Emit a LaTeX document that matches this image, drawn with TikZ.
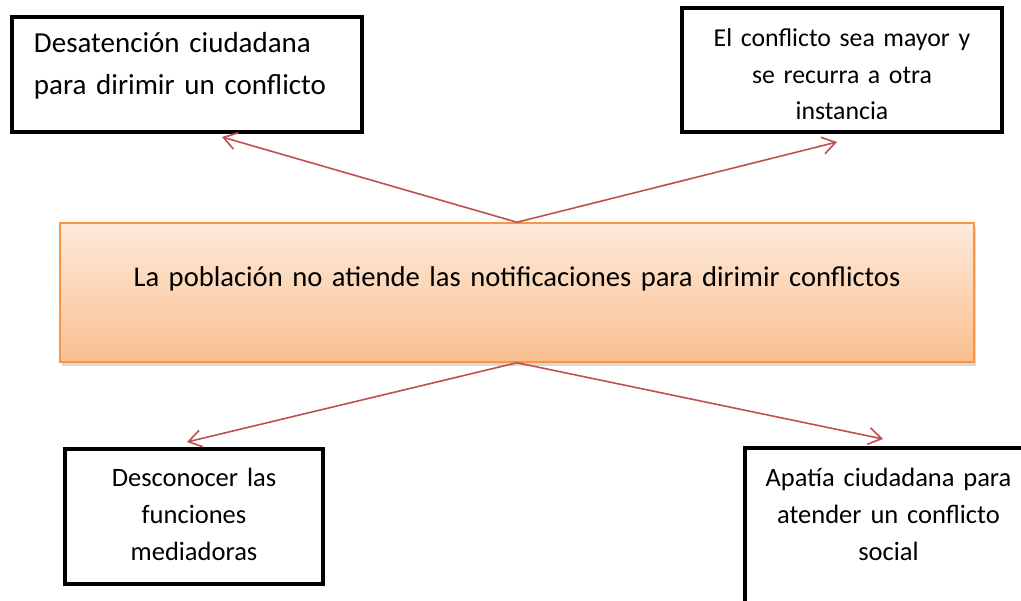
\documentclass[tikz,border=0pt]{standalone}
\usepackage{fontspec}
\setmainfont{Carlito}
\usetikzlibrary{arrows.meta, positioning, shadows, calc}
\definecolor{linkred}{RGB}{192,80,77}
\definecolor{boxorange}{RGB}{247,150,70}
\definecolor{peachtop}{RGB}{253,234,218}
\definecolor{peachbottom}{RGB}{250,191,143}

\begin{document}
\begin{tikzpicture}[
    x=1pt, y=-1pt,
    effect/.style={rectangle, draw=black, line width=4pt, inner sep=0pt, align=center,
                   text height=20pt, font=\fontsize{26.5}{36.7}\selectfont},
    problem/.style={rectangle, draw=boxorange, line width=1.5pt, inner sep=0pt, align=center,
                    top color=peachtop, bottom color=peachbottom,
                    drop shadow={shadow xshift=1.5pt, shadow yshift=-4pt, opacity=0.3},
                    text height=20pt, font=\fontsize{28.6}{42}\selectfont},
    arrow/.style={-{Straight Barb[length=13pt,width=17pt]}, draw=linkred, line width=1.6pt}
]
    \useasboundingbox (0,0) rectangle (1021,601);
    \clip (0,0) rectangle (1021,601);

    % effects above
    \node[effect, align=left, font=\fontsize{29}{42}\selectfont, text width=306pt, text depth=63pt,
          minimum width=350pt, minimum height=115pt] (lack) at (187,74.5)
        {Desatención ciudadana\\para dirimir un conflicto};
    \node[effect, font=\fontsize{25.8}{36.3}\selectfont, text width=300pt, text depth=66pt,
          minimum width=320pt, minimum height=124pt] (worse) at (842,70)
        {El conflicto sea mayor y\\se recurra a otra\\instancia};

    % central problem
    \node[problem, text width=880pt, text depth=31pt,
          minimum width=914pt, minimum height=139pt] (main) at (517,292.5)
        {La población no atiende las notificaciones para dirimir conflictos};

    % causes below
    \node[effect, text width=240pt, text depth=79pt,
          minimum width=258pt, minimum height=135pt] (unknown) at (194,516.5)
        {Desconocer las\\funciones\\mediadoras};
    \node[effect, text width=270pt, text depth=114pt,
          minimum width=287pt, minimum height=172pt] (apathy) at (888.5,534)
        {Apatía ciudadana para\\atender un conflicto\\social};

    \draw[arrow] (main.north) -- ($(lack.south)+(35,3)$);
    \draw[arrow] (main.north) -- ($(worse.south)+(-5,8)$);
    \draw[arrow] (main.south) -- ($(unknown.north)+(-7,-5)$);
    \draw[arrow] (main.south) -- ($(apathy.north)+(-5.5,-7)$);
\end{tikzpicture}
\end{document}
